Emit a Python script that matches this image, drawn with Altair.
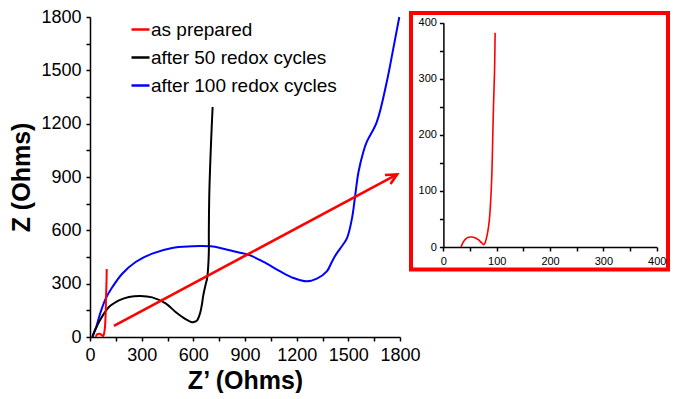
import altair as alt
import pandas as pd

series = ["as prepared", "after 50 redox cycles", "after 100 redox cycles"]
colors = ["#ff0000", "#000000", "#0000ff"]

# as prepared (red)
prep_x = [33, 36.7, 40.9, 47, 53, 59, 65.4, 71.5, 75.7, 78, 81.9, 85, 87.4, 89.8, 91, 92.2, 92.9, 94, 95.9, 97]
prep_y = [0, 7.7, 13.7, 17.2, 17.8, 16.6, 13, 7.7, 4.2, 7, 20.8, 38.6, 62.4, 104, 134, 181, 211, 253, 312, 382]

# after 50 redox cycles (black)
c50_x = [14, 25, 40, 52, 80, 110, 140, 168, 226, 294, 361, 439, 497, 555, 593, 603, 622, 641, 651, 657, 670, 680, 686, 690, 690, 693, 703, 712]
c50_y = [0, 30, 60, 84, 130, 169, 190, 206, 225, 231, 223, 189, 141, 101, 83, 84, 94, 141, 190, 230, 290, 330, 390, 480, 591, 816, 1097, 1294]

# after 100 redox cycles (blue)
c100_x = [14, 33, 62, 91, 130, 187, 265, 361, 477, 593, 641, 700, 757, 854, 921, 1008, 1105, 1182, 1259, 1317,
          1375, 1404, 1423, 1452, 1491, 1521, 1540, 1559, 1587, 1607, 1665, 1723, 1761, 1796]
c100_y = [0, 47, 141, 216, 281, 356, 422, 469, 501, 510, 512, 510, 501, 478, 463, 422, 369, 332, 313, 328,
          369, 422, 456, 497, 553, 666, 797, 928, 1041, 1097, 1209, 1434, 1622, 1800]

# arrow (shaft + open head), in data units
arrow_x = [139, 1783, 1713, 1783, 1745]
arrow_y = [62, 915, 911, 915, 861]
arrow_seg = [0, 0, 1, 1, 1]

main_ticks = list(range(0, 1801, 150))
inset_ticks = list(range(0, 401, 50))


def frame(name, xs, ys):
    return pd.DataFrame({"series": name, "x": xs, "y": ys, "i": list(range(len(xs)))})


df_prep = frame(series[0], prep_x, prep_y)
df_50 = frame(series[1], c50_x, c50_y)
df_100 = frame(series[2], c100_x, c100_y)
df_arrow = pd.DataFrame({"x": arrow_x, "y": arrow_y, "seg": arrow_seg, "i": list(range(len(arrow_x)))})

FONT = "Liberation Sans"


def axis(title, values, every, size, offset=0, title_pad=6, label_pad=4):
    kw = dict(
        values=values,
        format="d",
        labelExpr=f"datum.value % {every} == 0 ? datum.label : ''",
        grid=False,
        domainColor="black",
        domainWidth=1.5,
        tickColor="black",
        tickWidth=1.5,
        tickSize=4,
        labelFont=FONT,
        labelFontSize=size,
        labelColor="black",
        labelPadding=label_pad,
        labelFlush=False,
        labelOverlap=False,
    )
    if title:
        kw.update(title=title, titleFont=FONT, titleFontSize=25, titleFontWeight="bold",
                  titleColor="black", titlePadding=title_pad)
    else:
        kw.update(title=None)
    if offset:
        kw.update(offset=offset)
    return alt.Axis(**kw)


xm = alt.X("x:Q", scale=alt.Scale(domain=[0, 1800]), axis=axis("Z\u2019 (Ohms)", main_ticks, 300, 18, title_pad=4, label_pad=5))
ym = alt.Y("y:Q", scale=alt.Scale(domain=[0, 1800], range=[324, 4]), axis=axis("Z (Ohms)", main_ticks, 300, 18, title_pad=6, label_pad=5))

color = alt.Color(
    "series:N",
    scale=alt.Scale(domain=series, range=colors),
    legend=alt.Legend(
        orient="none", legendX=40, legendY=6, title=None, symbolType="stroke",
        symbolSize=324, symbolStrokeWidth=2.5, labelFont=FONT, labelFontSize=19,
        labelColor="black", labelOffset=0, rowPadding=7, padding=0, labelLimit=0,
    ),
)


def curve(df):
    return alt.Chart(df).mark_line(strokeWidth=2, interpolate="catmull-rom").encode(
        x=xm, y=ym, color=color, order=alt.Order("i:Q")
    )


arrow = alt.Chart(df_arrow).mark_line(strokeWidth=2.6, color="#ff0000").encode(
    x=xm, y=ym, detail="seg:N", order=alt.Order("i:Q")
)

main = alt.layer(curve(df_100), curve(df_50), curve(df_prep), arrow).properties(width=310, height=324)

xi = alt.X("x:Q", scale=alt.Scale(domain=[0, 400], range=[32.4, 245.7]),
           axis=axis(None, inset_ticks, 100, 11, offset=-22.5, label_pad=4))
yi = alt.Y("y:Q", scale=alt.Scale(domain=[0, 400], range=[234, 9.7]),
           axis=axis(None, inset_ticks, 100, 11, offset=-32.4, label_pad=3))

inset = alt.Chart(df_prep).mark_line(strokeWidth=1.6, color="#ff0000", interpolate="catmull-rom").encode(
    x=xi, y=yi, order=alt.Order("i:Q")
).properties(width=257, height=256.5, view=alt.ViewBackground(stroke="#ff0000", strokeWidth=4))

chart = alt.hconcat(main, inset, spacing=11, bounds="flush").properties(
    padding={"left": 1, "top": 0, "right": 0, "bottom": 0}
).configure_view(strokeWidth=0)

chart.save("out.html", embed_options={"renderer": "svg", "actions": False})
